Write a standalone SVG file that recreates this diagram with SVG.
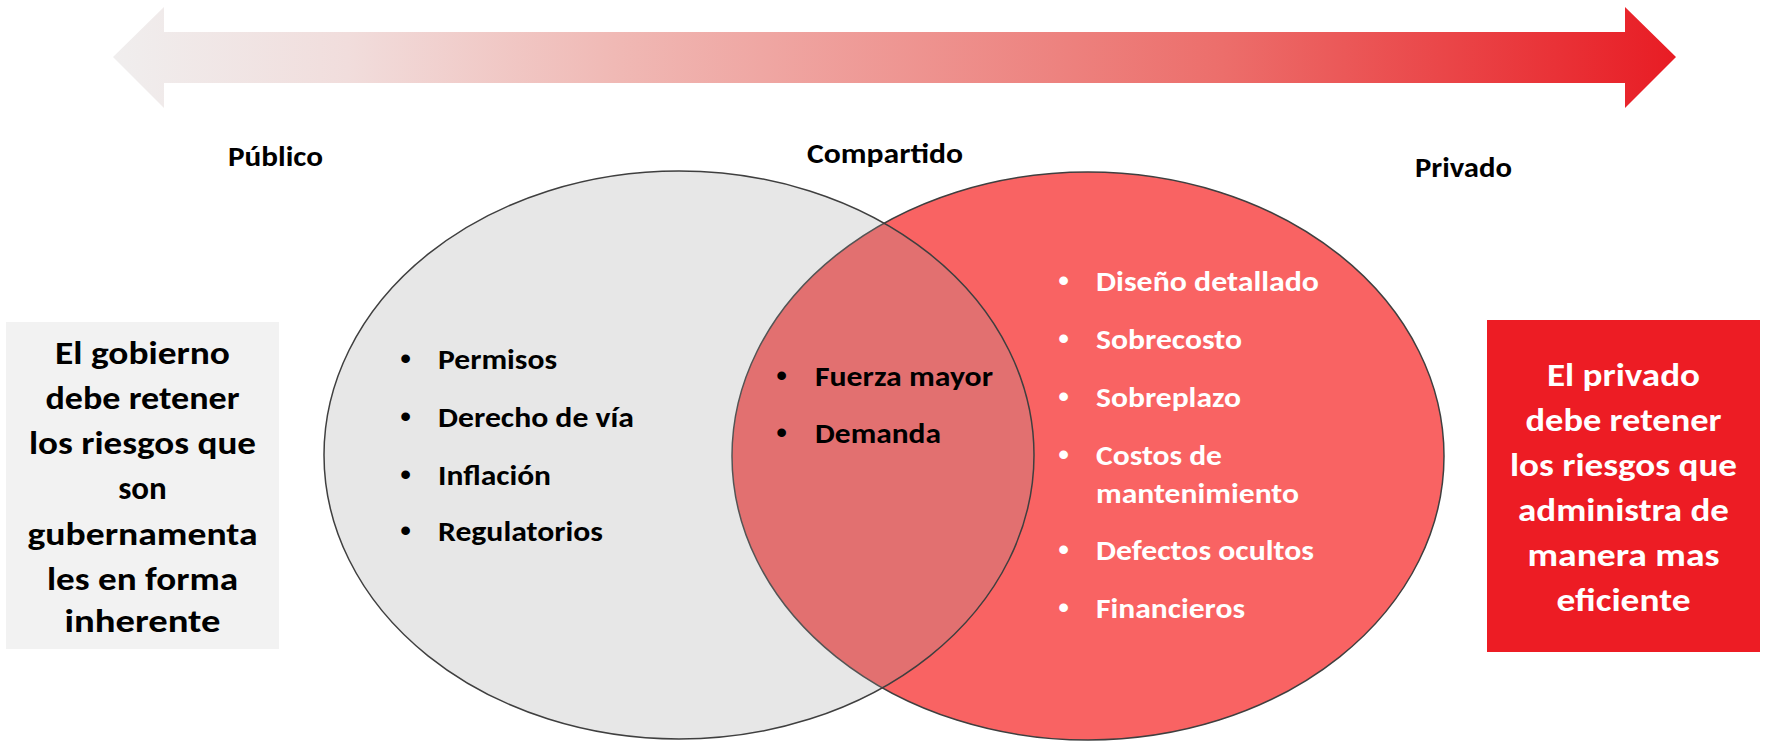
<svg xmlns="http://www.w3.org/2000/svg" width="1765" height="742" viewBox="0 0 1765 742">
  <style>
    .t { font-family: Carlito, Calibri, Lato, "Liberation Sans", sans-serif; font-weight: bold; }
    .h { font-size: 29px; fill: #000; }
    .li { font-size: 29px; }
    .bx { font-size: 33px; text-anchor: middle; }
    .bul { font-family: "Liberation Sans", Arial, sans-serif; font-size: 32px; }
    .dark { fill: #000; }
    .white { fill: #fff; }
    .ell { stroke: #3f3f3f; stroke-width: 1.5; }
  </style>
  <defs>
    <linearGradient id="arrowGrad" gradientUnits="userSpaceOnUse" x1="113" y1="0" x2="1676" y2="0">
      <stop offset="0" stop-color="#F0EEEE"/>
      <stop offset="0.15" stop-color="#F1DDDC"/>
      <stop offset="0.32" stop-color="#F0B9B5"/>
      <stop offset="0.71" stop-color="#EC6E6B"/>
      <stop offset="1" stop-color="#E81C24"/>
    </linearGradient>
  </defs>

  <g id="arrow">
    <polygon points="113,57 164,7 164,32 1625,32 1625,7 1676,57 1625,108 1625,83 164,83 164,108" fill="url(#arrowGrad)"/>
  </g>

  <g id="headers">
    <text class="t h" x="228" y="166" textLength="95" lengthAdjust="spacingAndGlyphs">Público</text>
    <text class="t h" x="807" y="163" textLength="156" lengthAdjust="spacingAndGlyphs">Compartido</text>
    <text class="t h" x="1415" y="177" textLength="97" lengthAdjust="spacingAndGlyphs">Privado</text>
  </g>

  <g id="venn">
    <ellipse id="privado-circle" class="ell" cx="1088" cy="456" rx="356" ry="284" fill="#F96363"/>
    <ellipse id="publico-circle" class="ell" cx="679" cy="455" rx="355" ry="284" fill="#9C9C9C" fill-opacity="0.24"/>
  </g>

  <g id="publico-list">
    <text class="bul dark" x="400" y="369">•</text>
    <text class="t li dark" x="438" y="369" textLength="119" lengthAdjust="spacingAndGlyphs">Permisos</text>
    <text class="bul dark" x="400" y="427">•</text>
    <text class="t li dark" x="438" y="427" textLength="196" lengthAdjust="spacingAndGlyphs">Derecho de vía</text>
    <text class="bul dark" x="400" y="485">•</text>
    <text class="t li dark" x="438" y="485" textLength="113" lengthAdjust="spacingAndGlyphs">Inflación</text>
    <text class="bul dark" x="400" y="541">•</text>
    <text class="t li dark" x="438" y="541" textLength="165" lengthAdjust="spacingAndGlyphs">Regulatorios</text>
  </g>

  <g id="compartido-list">
    <text class="bul dark" x="776" y="386">•</text>
    <text class="t li dark" x="815" y="386" textLength="178" lengthAdjust="spacingAndGlyphs">Fuerza mayor</text>
    <text class="bul dark" x="776" y="443">•</text>
    <text class="t li dark" x="815" y="443" textLength="126" lengthAdjust="spacingAndGlyphs">Demanda</text>
  </g>

  <g id="privado-list">
    <text class="bul white" x="1058" y="291">•</text>
    <text class="t li white" x="1096" y="291" textLength="223" lengthAdjust="spacingAndGlyphs">Diseño detallado</text>
    <text class="bul white" x="1058" y="349">•</text>
    <text class="t li white" x="1096" y="349" textLength="146" lengthAdjust="spacingAndGlyphs">Sobrecosto</text>
    <text class="bul white" x="1058" y="407">•</text>
    <text class="t li white" x="1096" y="407" textLength="145" lengthAdjust="spacingAndGlyphs">Sobreplazo</text>
    <text class="bul white" x="1058" y="465">•</text>
    <text class="t li white" x="1096" y="465" textLength="126" lengthAdjust="spacingAndGlyphs">Costos de</text>
    <text class="t li white" x="1096" y="503" textLength="203" lengthAdjust="spacingAndGlyphs">mantenimiento</text>
    <text class="bul white" x="1058" y="560">•</text>
    <text class="t li white" x="1096" y="560" textLength="218" lengthAdjust="spacingAndGlyphs">Defectos ocultos</text>
    <text class="bul white" x="1058" y="618">•</text>
    <text class="t li white" x="1096" y="618" textLength="149" lengthAdjust="spacingAndGlyphs">Financieros</text>
  </g>

  <g id="gobierno-box">
    <rect x="6" y="322" width="273" height="327" fill="#F2F2F2"/>
    <text class="t bx dark" x="142.5" y="364" textLength="175" lengthAdjust="spacingAndGlyphs">El gobierno</text>
    <text class="t bx dark" x="142.5" y="409" textLength="194" lengthAdjust="spacingAndGlyphs">debe retener</text>
    <text class="t bx dark" x="142.5" y="454" textLength="227" lengthAdjust="spacingAndGlyphs">los riesgos que</text>
    <text class="t bx dark" x="142.5" y="499">son</text>
    <text class="t bx dark" x="142.5" y="545" textLength="230" lengthAdjust="spacingAndGlyphs">gubernamenta</text>
    <text class="t bx dark" x="142.5" y="590" textLength="191" lengthAdjust="spacingAndGlyphs">les en forma</text>
    <text class="t bx dark" x="142.5" y="632" textLength="156" lengthAdjust="spacingAndGlyphs">inherente</text>
  </g>

  <g id="privado-box">
    <rect x="1487" y="320" width="273" height="332" fill="#ED1C24"/>
    <text class="t bx white" x="1623.5" y="386" textLength="153" lengthAdjust="spacingAndGlyphs">El privado</text>
    <text class="t bx white" x="1623.5" y="431" textLength="196" lengthAdjust="spacingAndGlyphs">debe retener</text>
    <text class="t bx white" x="1623.5" y="476" textLength="227" lengthAdjust="spacingAndGlyphs">los riesgos que</text>
    <text class="t bx white" x="1623.5" y="521" textLength="211" lengthAdjust="spacingAndGlyphs">administra de</text>
    <text class="t bx white" x="1623.5" y="566" textLength="192" lengthAdjust="spacingAndGlyphs">manera mas</text>
    <text class="t bx white" x="1623.5" y="611" textLength="134" lengthAdjust="spacingAndGlyphs">eficiente</text>
  </g>
</svg>
